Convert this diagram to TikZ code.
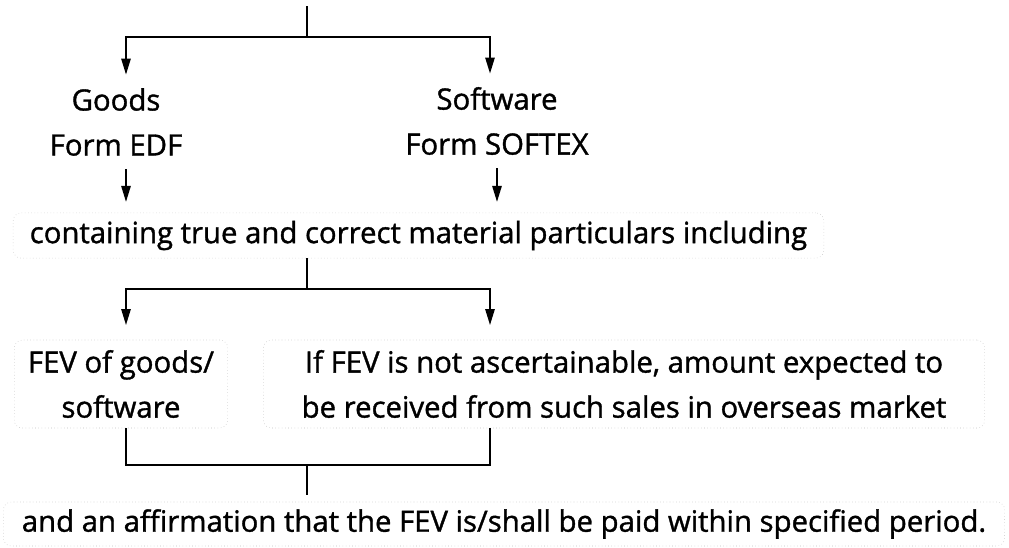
\documentclass[tikz,border=0pt]{standalone}
\usepackage{fontspec}
\setmainfont{Open Sans}[FakeBold=1.2]
\usetikzlibrary{arrows.meta,positioning}
\tikzset{
  txt/.style  ={align=center, font=\fontsize{22}{33.75}\selectfont,
                inner xsep=0pt, inner ysep=10pt},
  scan/.style ={txt, draw=black!25, dotted, thin,
                rounded corners=6pt, inner ysep=0pt},
  link/.style ={line width=1.3pt, draw=black},
  flow/.style ={link, -{Triangle[length=12pt,width=7pt]}},
}
\begin{document}
\begin{tikzpicture}[x=0.75pt,y=-0.75pt]
  \useasboundingbox (0,0) rectangle (1009,547);
  % columns and forks
  \coordinate (lcol)  at (126,0);
  \coordinate (rcol)  at (490,0);
  \coordinate (top)   at (307,6);
  \coordinate (fork1) at (307,37);
  \coordinate (fork2) at (307,289);
  \coordinate (fork3) at (307,465);
  % texts
  \node[txt] (goods) at (116,122) {Goods\\Form EDF};
  \node[txt] (soft)  at (497,121) {Software\\Form SOFTEX};
  \node[scan, minimum width=608pt, minimum height=34pt] (incl) at (418.5,235.5)
    {containing true and correct material particulars including};
  \node[scan, minimum width=160pt, minimum height=66pt] (fev) at (121,384)
    {FEV of goods/\\software};
  \node[scan, minimum width=541pt, minimum height=66pt] (ifnot) at (624,384)
    {If FEV is not ascertainable, amount expected to\\be received from such sales in overseas market};
  \node[scan, minimum width=751pt, minimum height=33pt] (affirm) at (504,524)
    {and an affirmation that the FEV is/shall be paid within specified period.};
  % connectors
  \draw[link] (top) -- (fork1);
  \draw[flow] (fork1) -| (lcol |- goods.north);
  \draw[flow] (fork1) -| (rcol |- soft.north);
  \draw[flow, shorten >=8pt] (lcol |- goods.south) -- (lcol |- incl.north);
  \draw[flow, shorten >=8pt] (soft.south) -- (soft.south |- incl.north);
  \draw[link] (fork2 |- incl.south) -- (fork2);
  \draw[flow, shorten >=11pt] (fork2) -| (lcol |- fev.north);
  \draw[flow, shorten >=11pt] (fork2) -| (rcol |- ifnot.north);
  \draw[link] (lcol |- fev.south) |- (fork3) -| (rcol |- ifnot.south);
  \draw[link, shorten >=5pt] (fork3) -- (fork3 |- affirm.north);
\end{tikzpicture}
\end{document}
